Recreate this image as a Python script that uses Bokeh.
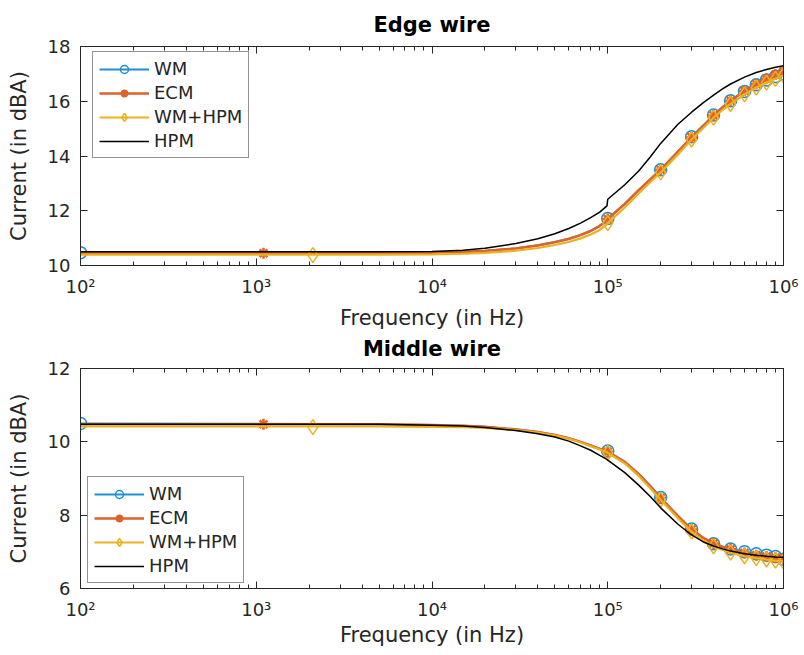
from bokeh.plotting import figure
from bokeh.models import (LogAxis, LinearAxis, FixedTicker, CustomJSTickFormatter,
                          Legend, LegendItem)
from bokeh.layouts import column
from bokeh.embed import file_html
from bokeh.resources import INLINE

# ---------------- data ----------------
freq = [100, 1e3, 5e3, 1e4, 1.5e4, 2e4, 3e4, 4e4, 5e4, 6e4, 7e4, 8e4, 9e4, 9.9e4, 1e5,
        1.25e5, 1.5e5, 1.75e5, 2e5, 2.5e5, 3e5, 3.5e5, 4e5, 4.5e5, 5e5, 6e5, 7e5,
        8e5, 9e5, 1e6]

# Edge wire
edge_wm = [10.47, 10.47, 10.47, 10.48, 10.50, 10.54, 10.63, 10.74, 10.86, 10.98, 11.12,
           11.27, 11.45, 11.65, 11.72, 12.25, 12.75, 13.15, 13.50, 14.15, 14.70, 15.12,
           15.50, 15.78, 16.02, 16.36, 16.60, 16.78, 16.90, 17.00]
edge_ecm = [10.45, 10.45, 10.45, 10.46, 10.49, 10.53, 10.62, 10.73, 10.85, 10.97, 11.11,
            11.26, 11.44, 11.64, 11.70, 12.25, 12.75, 13.15, 13.50, 14.15, 14.68, 15.10,
            15.48, 15.78, 16.02, 16.38, 16.63, 16.82, 16.98, 17.10]
edge_whpm = [10.40, 10.40, 10.40, 10.41, 10.43, 10.46, 10.54, 10.64, 10.75, 10.86, 10.99,
             11.13, 11.30, 11.50, 11.55, 12.12, 12.63, 13.05, 13.40, 14.05, 14.60, 15.02,
             15.40, 15.68, 15.90, 16.25, 16.50, 16.68, 16.82, 16.95]
edge_hpm = [10.50, 10.50, 10.50, 10.51, 10.56, 10.63, 10.80, 10.98, 11.16, 11.35, 11.55,
            11.75, 11.95, 12.18, 12.42, 12.95, 13.45, 13.97, 14.46, 15.15, 15.60, 15.95,
            16.22, 16.45, 16.63, 16.88, 17.05, 17.16, 17.24, 17.30]

# Middle wire
mid_wm = [10.50, 10.49, 10.48, 10.46, 10.44, 10.41, 10.34, 10.27, 10.19, 10.10, 10.00,
          9.90, 9.81, 9.75, 9.74, 9.46, 9.13, 8.80, 8.48, 7.99, 7.62, 7.38, 7.22, 7.13,
          7.08, 7.00, 6.95, 6.91, 6.87, 6.80]
mid_ecm = [10.48, 10.48, 10.48, 10.46, 10.44, 10.41, 10.34, 10.27, 10.19, 10.10, 10.00,
           9.90, 9.81, 9.74, 9.73, 9.45, 9.12, 8.78, 8.47, 7.98, 7.61, 7.38, 7.23, 7.14,
           7.07, 6.97, 6.91, 6.87, 6.84, 6.82]
mid_whpm = [10.42, 10.42, 10.42, 10.41, 10.40, 10.38, 10.32, 10.25, 10.17, 10.08, 9.98,
            9.88, 9.79, 9.72, 9.70, 9.41, 9.07, 8.73, 8.42, 7.92, 7.55, 7.30, 7.15, 7.05,
            6.98, 6.88, 6.83, 6.79, 6.76, 6.74]
mid_hpm = [10.48, 10.48, 10.48, 10.45, 10.43, 10.39, 10.31, 10.22, 10.13, 10.02, 9.89,
           9.77, 9.63, 9.52, 9.50, 9.16, 8.82, 8.50, 8.20, 7.76, 7.46, 7.27, 7.16, 7.08,
           7.02, 6.95, 6.91, 6.88, 6.86, 6.85]

# marker positions
wm_mk_f = [100, 1e5, 2e5, 3e5, 4e5, 5e5, 6e5, 7e5, 8e5, 9e5, 1e6]
ecm_mk_f = [1100, 1e5, 2e5, 3e5, 4e5, 5e5, 6e5, 7e5, 8e5, 9e5, 1e6]
whpm_mk_f = [2100, 1e5, 2e5, 3e5, 4e5, 5e5, 6e5, 7e5, 8e5, 9e5, 1e6]

edge_wm_mk = [10.47, 11.72, 13.50, 14.70, 15.50, 16.02, 16.36, 16.60, 16.78, 16.90, 17.00]
edge_ecm_mk = [10.45, 11.70, 13.50, 14.68, 15.48, 16.02, 16.38, 16.63, 16.82, 16.98, 17.10]
edge_whpm_mk = [10.38, 11.55, 13.40, 14.60, 15.40, 15.90, 16.25, 16.50, 16.68, 16.82, 16.95]

mid_wm_mk = [10.50, 9.75, 8.48, 7.62, 7.22, 7.08, 7.00, 6.95, 6.91, 6.87, 6.80]
mid_ecm_mk = [10.48, 9.73, 8.47, 7.61, 7.23, 7.07, 6.97, 6.91, 6.87, 6.84, 6.82]
mid_whpm_mk = [10.40, 9.70, 8.42, 7.55, 7.15, 6.98, 6.88, 6.83, 6.79, 6.76, 6.74]

x_ticks = [1e2, 1e3, 1e4, 1e5, 1e6]
edge_yticks = [10, 12, 14, 16, 18]
mid_yticks = [6, 8, 10, 12]
series_names = ["WM", "ECM", "WM+HPM", "HPM"]

# ---------------- style ----------------
FONT = "DejaVu Sans"
TXT = "#262626"
C_WM = "#1f8fd4"
C_ECM = "#dd6329"
C_WHPM = "#edb120"
C_HPM = "#000000"

x_minor = [m * 10 ** e for e in range(2, 6) for m in range(2, 10)]

SUP_CODE = """
const s = {'0':'\u2070','1':'\u00b9','2':'\u00b2','3':'\u00b3','4':'\u2074','5':'\u2075','6':'\u2076','7':'\u2077','8':'\u2078','9':'\u2079','-':'\u207b'};
const e = Math.round(Math.log10(tick));
return '10' + String(e).split('').map(c => s[c]).join('');
"""
BLANK_CODE = "return ' ';"


def style_axis(ax, show_labels=True):
    ax.axis_line_color = TXT
    ax.major_tick_line_color = TXT
    ax.minor_tick_line_color = TXT
    ax.major_tick_in = 7
    ax.major_tick_out = 0
    ax.minor_tick_in = 4
    ax.minor_tick_out = 0
    ax.major_label_text_font = FONT
    ax.major_label_text_color = TXT
    ax.axis_label_text_font = FONT
    ax.axis_label_text_color = TXT
    ax.axis_label_text_font_style = "normal"
    ax.axis_label_text_font_size = "21px"
    if show_labels:
        ax.major_label_text_font_size = "18px"
    else:
        ax.major_label_text_font_size = "2px"
        ax.major_label_standoff = 0
        ax.formatter = CustomJSTickFormatter(code=BLANK_CODE)


def make_panel(title, yr, yticks, lines, marks, legend_loc,
               frame_h, border_top, border_bottom, xlab_standoff, title_standoff):
    p = figure(x_axis_type="log", x_range=(1e2, 1e6), y_range=yr,
               frame_width=703, frame_height=frame_h,
               min_border_left=80, min_border_right=18, min_border_top=border_top,
               min_border_bottom=border_bottom,
               output_backend="svg", toolbar_location=None)
    p.title.text = title
    p.title.align = "center"
    p.title.text_font = FONT
    p.title.text_font_size = "21px"
    p.title.text_font_style = "bold"
    p.title.text_color = "#000000"
    p.title.standoff = title_standoff
    p.xgrid.grid_line_color = None
    p.ygrid.grid_line_color = None
    p.outline_line_color = TXT
    p.outline_line_alpha = 1

    xt = FixedTicker(ticks=x_ticks, minor_ticks=x_minor)
    yt = FixedTicker(ticks=yticks, minor_ticks=[])
    p.xaxis.ticker = xt
    p.xaxis.formatter = CustomJSTickFormatter(code=SUP_CODE)
    p.yaxis.ticker = yt
    p.xaxis.axis_label = "Frequency (in Hz)"
    p.yaxis.axis_label = "Current (in dBA)"
    style_axis(p.xaxis[0])
    style_axis(p.yaxis[0])
    p.xaxis.major_label_standoff = 10
    p.yaxis.major_label_standoff = 10
    p.xaxis.axis_label_standoff = xlab_standoff
    p.yaxis.axis_label_standoff = 14

    top = LogAxis(ticker=xt)
    style_axis(top, show_labels=False)
    p.add_layout(top, "above")
    right = LinearAxis(ticker=yt)
    style_axis(right, show_labels=False)
    p.add_layout(right, "right")

    colors = [C_WM, C_ECM, C_WHPM, C_HPM]
    widths = [2, 2.5, 2.2, 1.5]
    items = []
    for i, name in enumerate(series_names):
        rs = []
        lr = p.line(freq, lines[i], line_color=colors[i], line_width=widths[i])
        rs.append(lr)
        if i < 3:
            mf, mv = marks[i]
            if i == 0:
                mr = p.scatter(mf, mv, marker="circle", size=12, fill_color=None,
                               line_color=colors[i], line_width=1.5)
            elif i == 1:
                mr = p.scatter(mf, mv, marker="asterisk", size=11,
                               line_color=colors[i], line_width=2.5)
            else:
                mr = p.scatter(mf, mv, marker="diamond", size=15, fill_color=None,
                               line_color=colors[i], line_width=1.5)
            rs.append(mr)
        items.append(LegendItem(label=name, renderers=rs))

    leg = Legend(items=items, location=legend_loc)
    leg.label_text_font = FONT
    leg.label_text_font_size = "18px"
    leg.label_text_color = TXT
    leg.glyph_width = 50
    leg.glyph_height = 20
    leg.label_height = 20
    leg.label_standoff = 5
    leg.spacing = 3
    leg.padding = 6
    leg.margin = 0
    leg.border_line_color = TXT
    leg.border_line_width = 1
    leg.background_fill_color = "white"
    leg.background_fill_alpha = 1
    p.add_layout(leg)
    return p


p1 = make_panel("Edge wire", (10, 18), edge_yticks,
                [edge_wm, edge_ecm, edge_whpm, edge_hpm],
                [(wm_mk_f, edge_wm_mk), (ecm_mk_f, edge_ecm_mk), (whpm_mk_f, edge_whpm_mk)],
                (12, 107), 219, 46, 40, 6, 9)
p2 = make_panel("Middle wire", (6, 12), mid_yticks,
                [mid_wm, mid_ecm, mid_whpm, mid_hpm],
                [(wm_mk_f, mid_wm_mk), (ecm_mk_f, mid_ecm_mk), (whpm_mk_f, mid_whpm_mk)],
                (7, 5), 220, 20, 40, 0, 5)

layout = column(p1, p2)
open("out.html", "w").write(file_html(layout, INLINE))
